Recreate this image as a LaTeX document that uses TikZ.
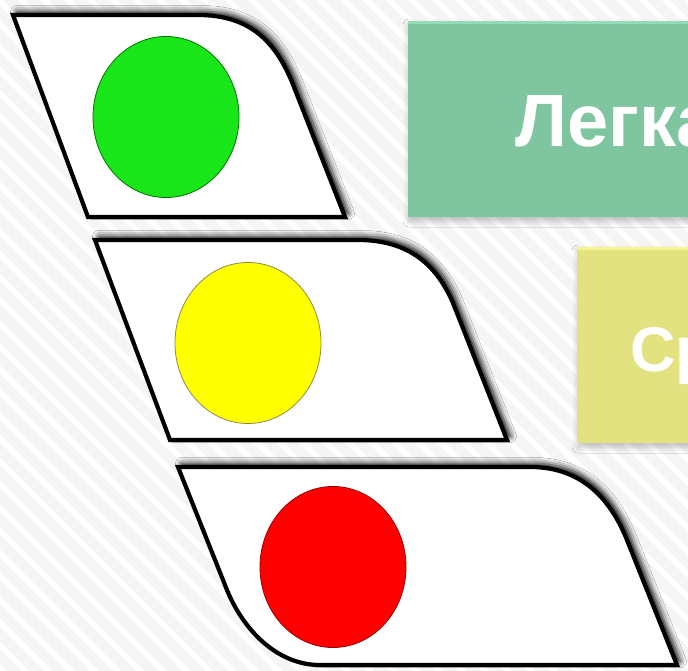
\documentclass[tikz,border=0pt]{standalone}
\usepackage{fontspec}
\setmainfont{Liberation Sans}
\usetikzlibrary{shapes.geometric,shadows.blur}

\definecolor{stripe}{HTML}{F5F5F5}
\definecolor{greenbox}{HTML}{7FC5A0}
\definecolor{greentop}{HTML}{93DDB6}
\definecolor{yellowbox}{HTML}{E2E281}
\definecolor{yellowtop}{HTML}{F4F491}
\definecolor{lampgreen}{HTML}{18E618}
\definecolor{lampyellow}{HTML}{FFFF00}
\definecolor{lampred}{HTML}{FF0000}

\begin{document}
\begin{tikzpicture}[x=1pt,y=-1pt,
  panel/.style={draw=black, line width=4.2pt, fill=white, line join=miter,
    blur shadow={shadow xshift=3.5pt, shadow yshift=3.5pt,
                 shadow blur radius=6pt, shadow opacity=100}},
  lamp/.style={ellipse, minimum width=146pt, minimum height=161pt,
    inner sep=0pt, line width=0.8pt},
  tag/.style={blur shadow={shadow xshift=1pt, shadow yshift=-4pt,
    shadow blur radius=6pt, shadow opacity=25}},
  tagtext/.style={text=white, inner sep=0pt, anchor=base west}
]
% page frame
\clip (0,0) rectangle (688,671);
\fill[white] (0,0) rectangle (688,671);

% diagonal background stripes
\foreach \k in {-690,-667,...,700}
  \draw[stripe, line width=10pt] (\k,-10) -- (\k+700,690);

% label tiles
\fill[greenbox, tag] (408,21) rectangle (720,217);
\fill[greentop] (408,21) rectangle (720,24);
\fill[yellowbox, tag] (577,247) rectangle (720,443);
\fill[yellowtop] (577,247) rectangle (720,250);

\node[tagtext, font=\bfseries\fontsize{74}{74}\selectfont] (easy) at (515,147) {Легка};
\node[tagtext, font=\bfseries\fontsize{63}{63}\selectfont] (mid) at (630,371) {Ср};

% green panel
\path[panel] (13,15) -- (198,15) .. controls (252,15) and (276,44) .. (292,82)
  -- (345,217) -- (88,217) -- cycle;
\node[lamp, fill=lampgreen, draw=green!45!black] (go) at (166,117) {};

% yellow panel
\path[panel] (95,240) -- (358,240) .. controls (410,240) and (437,266) .. (453,303)
  -- (507,440) -- (170,440) -- cycle;
\node[lamp, fill=lampyellow, draw=yellow!50!black] (wait) at (248,343) {};

% red panel
\path[panel] (178,467) -- (530,467) .. controls (585,467) and (612,503) .. (627,540)
  -- (677,665) -- (320,665) .. controls (275,665) and (242,627) .. (227,590) -- cycle;
\node[lamp, fill=lampred, draw=red!60!black] (stop) at (333,567) {};
\end{tikzpicture}
\end{document}
